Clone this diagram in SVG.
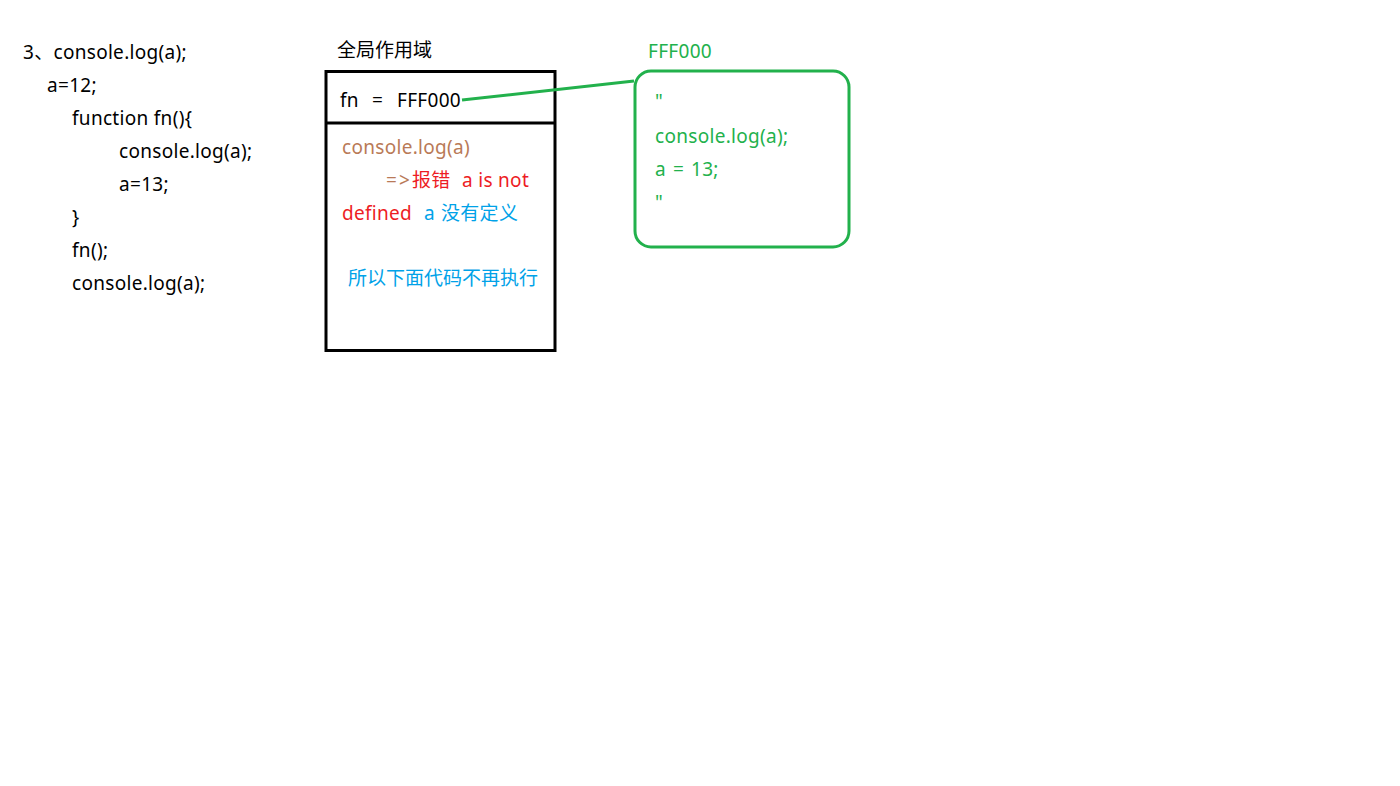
<svg xmlns="http://www.w3.org/2000/svg" width="1400" height="786" viewBox="0 0 1400 786">
<style>
text{font-family:"Noto Sans","Noto Sans CJK SC",sans-serif;font-size:19px;letter-spacing:0.3px;white-space:pre;}
.cjk{letter-spacing:0}
.k{fill:#000}
.br{fill:#b97a57}
.rd{fill:#ed1c24}
.bl{fill:#00a2e8}
.gn{fill:#22b14c}
</style>
<rect width="1400" height="786" fill="#fff"/>
<g id="code">
<text class="k" x="23" y="59">3、console.log(a);</text>
<text class="k" x="47" y="92">a=12;</text>
<text class="k" x="72" y="125">function fn(){</text>
<text class="k" x="119" y="158">console.log(a);</text>
<text class="k" x="119" y="191">a=13;</text>
<text class="k" x="72" y="224">}</text>
<text class="k" x="72" y="257">fn();</text>
<text class="k" x="72" y="290">console.log(a);</text>
</g>
<g id="global-scope">
<text class="k cjk" x="337" y="57">全局作用域</text>
<rect x="326" y="71.5" width="229" height="279" fill="none" stroke="#000" stroke-width="3"/>
<line x1="326" y1="123" x2="555" y2="123" stroke="#000" stroke-width="3"/>
<text class="k" y="107"><tspan x="340">fn</tspan><tspan x="372">=</tspan><tspan x="397">FFF000</tspan></text>
<text class="br" x="342" y="154">console.log(a)</text>
<text y="187"><tspan class="br" x="386">=</tspan><tspan class="br" x="399">&gt;</tspan><tspan class="rd" x="412">报错</tspan><tspan class="rd" x="462">a is not</tspan></text>
<text y="220"><tspan class="rd" x="342">defined</tspan><tspan class="bl" x="424">a</tspan><tspan class="bl" x="441">没有定义</tspan></text>
<text class="bl cjk" x="348" y="285">所以下面代码不再执行</text>
</g>
<g id="heap-FFF000">
<text class="gn" x="648" y="58">FFF000</text>
<rect x="635" y="71" width="214" height="176" rx="16" fill="none" stroke="#22b14c" stroke-width="3"/>
<text class="gn" x="655" y="108">"</text>
<text class="gn" x="655" y="143">console.log(a);</text>
<text class="gn" y="176"><tspan x="655">a</tspan><tspan x="673">=</tspan><tspan x="691">13;</tspan></text>
<text class="gn" x="655" y="209">"</text>
</g>
<g id="connectors">
<line x1="462" y1="100" x2="634" y2="81" stroke="#22b14c" stroke-width="3"/>
</g>
</svg>
